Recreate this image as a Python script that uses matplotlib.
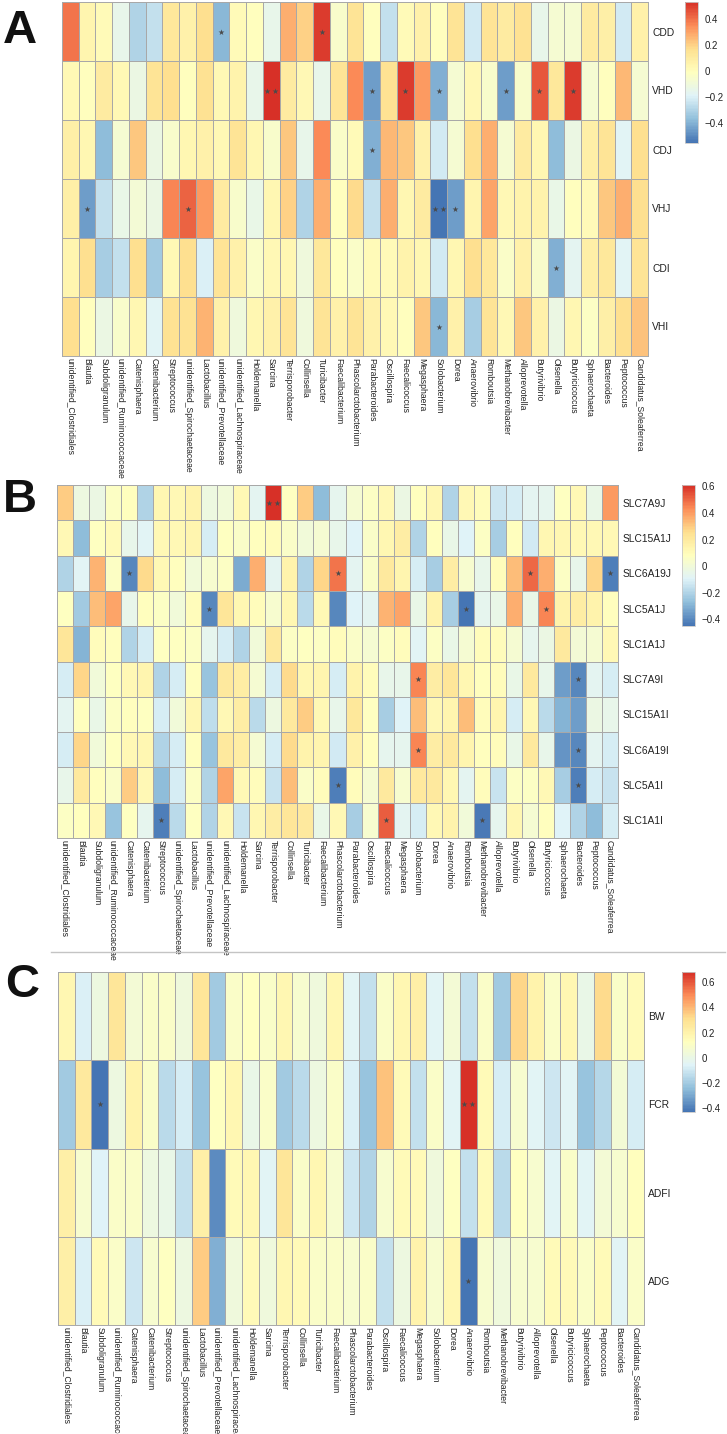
import numpy as np
import matplotlib.pyplot as plt
from matplotlib.colors import LinearSegmentedColormap
from matplotlib.ticker import FuncFormatter
from matplotlib.lines import Line2D

plt.rcParams['font.family'] = ['Liberation Sans', 'DejaVu Sans']

# genera (columns) for panels A and B
genera_ab = ['unidentified_Clostridiales', 'Blautia', 'Subdoligranulum', 'unidentified_Ruminococcaceae',
             'Catenisphaera', 'Catenibacterium', 'Streptococcus', 'unidentified_Spirochaetaceae',
             'Lactobacillus', 'unidentified_Prevotellaceae', 'unidentified_Lachnospiraceae', 'Holdemanella',
             'Sarcina', 'Terrisporobacter', 'Collinsella', 'Turicibacter', 'Faecalibacterium',
             'Phascolarctobacterium', 'Parabacteroides', 'Oscillospira', 'Faecalicoccus', 'Megasphaera',
             'Solobacterium', 'Dorea', 'Anaerovibrio', 'Romboutsia', 'Methanobrevibacter', 'Alloprevotella',
             'Butyrivibrio', 'Olsenella', 'Butyricicoccus', 'Sphaerochaeta', 'Bacteroides', 'Peptococcus',
             'Candidatus_Soleaferrea']
# panel C has a slightly different column order
genera_c = ['unidentified_Clostridiales', 'Blautia', 'Subdoligranulum', 'unidentified_Ruminococcaceae',
            'Catenisphaera', 'Catenibacterium', 'Streptococcus', 'unidentified_Spirochaetaceae',
            'Lactobacillus', 'unidentified_Prevotellaceae', 'unidentified_Lachnospiraceae', 'Holdemanella',
            'Sarcina', 'Terrisporobacter', 'Collinsella', 'Turicibacter', 'Faecalibacterium',
            'Phascolarctobacterium', 'Parabacteroides', 'Oscillospira', 'Faecalicoccus', 'Megasphaera',
            'Solobacterium', 'Dorea', 'Anaerovibrio', 'Romboutsia', 'Methanobrevibacter', 'Butyrivibrio',
            'Alloprevotella', 'Olsenella', 'Butyricicoccus', 'Sphaerochaeta', 'Peptococcus', 'Bacteroides',
            'Candidatus_Soleaferrea']

# Panel A: enzyme activities
rows_a = ['CDD', 'VHD', 'CDJ', 'VHJ', 'CDI', 'VHI']
vals_a = [
    [0.40, 0.05, 0.02, -0.15, -0.30, -0.25, 0.12, 0.07, 0.17, -0.38, 0.02, 0.00, -0.15, 0.28, 0.20, 0.50, -0.05, 0.15,
     0.00, -0.25, 0.02, 0.07, 0.00, 0.15, -0.22, 0.15, 0.10, 0.16, -0.15, -0.07, -0.07, 0.10, 0.08, -0.22, 0.07],
    [0.03, 0.00, 0.10, 0.03, -0.12, 0.15, 0.17, 0.00, 0.16, 0.03, 0.06, -0.15, 0.53, 0.10, 0.03, -0.15, 0.15, 0.35,
     -0.45, 0.16, 0.50, 0.32, -0.40, -0.07, 0.03, -0.05, -0.45, -0.05, 0.45, 0.13, 0.50, -0.07, 0.00, 0.25, -0.07],
    [0.08, 0.04, -0.37, -0.07, 0.22, -0.12, -0.05, 0.04, 0.07, 0.03, 0.15, 0.04, -0.05, 0.22, -0.15, 0.35, -0.04, 0.02,
     -0.40, 0.25, 0.22, 0.07, -0.22, -0.07, 0.17, 0.28, -0.07, 0.10, 0.04, -0.37, -0.12, 0.08, 0.15, -0.18, 0.17],
    [0.08, -0.45, -0.25, -0.13, -0.08, -0.12, 0.36, 0.43, 0.32, 0.10, -0.05, -0.13, 0.04, 0.20, -0.30, 0.28, 0.00, 0.18,
     -0.25, 0.28, 0.04, 0.10, -0.55, -0.45, 0.05, 0.30, 0.03, 0.06, 0.06, -0.13, 0.00, 0.02, 0.22, 0.28, 0.17],
    [0.05, 0.17, -0.32, -0.25, 0.17, -0.33, 0.03, 0.17, -0.20, 0.15, 0.07, -0.04, 0.03, 0.04, -0.10, 0.13, 0.00, -0.04,
     0.02, 0.02, 0.06, 0.04, -0.22, 0.04, 0.17, 0.13, -0.04, 0.07, -0.05, -0.40, -0.17, 0.08, 0.13, -0.18, 0.15],
    [0.17, 0.00, -0.12, -0.05, 0.04, -0.18, 0.16, 0.16, 0.27, 0.07, -0.10, 0.04, 0.07, 0.15, -0.10, 0.15, 0.07, 0.15,
     0.07, 0.03, 0.00, 0.22, -0.38, 0.07, -0.32, 0.15, 0.03, 0.22, 0.07, -0.12, 0.04, -0.03, 0.08, 0.17, 0.23],
]
stars_a = [('CDD', 'unidentified_Prevotellaceae', 1), ('CDD', 'Turicibacter', 1),
           ('VHD', 'Sarcina', 2), ('VHD', 'Parabacteroides', 1), ('VHD', 'Faecalicoccus', 1),
           ('VHD', 'Solobacterium', 1), ('VHD', 'Methanobrevibacter', 1), ('VHD', 'Butyrivibrio', 1),
           ('VHD', 'Butyricicoccus', 1), ('CDJ', 'Parabacteroides', 1),
           ('VHJ', 'Blautia', 1), ('VHJ', 'unidentified_Spirochaetaceae', 1), ('VHJ', 'Solobacterium', 2),
           ('VHJ', 'Dorea', 1), ('CDI', 'Olsenella', 1), ('VHI', 'Solobacterium', 1)]

# Panel B: transporter gene expression
rows_b = ['SLC7A9J', 'SLC15A1J', 'SLC6A19J', 'SLC5A1J', 'SLC1A1J',
          'SLC7A9I', 'SLC15A1I', 'SLC6A19I', 'SLC5A1I', 'SLC1A1I']
vals_b = [
    [0.30, -0.02, -0.03, 0.06, 0.08, -0.20, 0.13, 0.12, 0.15, -0.02, 0.00, 0.12, -0.07, 0.61, 0.07, 0.30, -0.27, -0.06,
     0.02, 0.06, 0.12, -0.03, 0.08, 0.13, -0.20, 0.12, 0.10, -0.14, -0.12, -0.07, -0.06, 0.07, 0.12, -0.04, 0.40],
    [0.12, -0.28, 0.07, 0.11, -0.05, -0.08, 0.12, 0.12, 0.14, -0.12, 0.07, 0.05, 0.08, 0.10, 0.05, 0.00, 0.02, -0.05,
     -0.10, 0.05, 0.13, 0.18, -0.20, 0.08, -0.04, -0.10, 0.06, -0.22, 0.08, -0.13, 0.13, 0.13, 0.12, 0.12, 0.12],
    [-0.20, -0.08, 0.35, 0.06, -0.40, 0.27, 0.12, 0.08, 0.00, 0.03, 0.06, -0.32, 0.36, -0.07, 0.15, -0.20, 0.28, 0.48,
     -0.07, 0.05, 0.20, 0.14, -0.12, -0.22, 0.18, 0.03, -0.05, 0.10, 0.33, 0.50, 0.36, 0.06, -0.05, 0.28, -0.42],
    [0.07, -0.23, 0.33, 0.38, -0.05, 0.08, 0.06, 0.00, 0.10, -0.40, 0.22, 0.13, 0.10, 0.03, 0.13, -0.18, 0.12, -0.40,
     -0.10, -0.07, 0.35, 0.38, -0.04, 0.15, -0.22, -0.45, -0.06, -0.04, 0.36, -0.04, 0.45, 0.15, 0.18, 0.15, 0.08],
    [0.22, -0.30, 0.10, 0.08, -0.20, -0.12, 0.07, 0.07, 0.06, -0.06, -0.12, -0.20, 0.00, 0.20, 0.06, 0.07, 0.06, 0.10,
     0.05, 0.02, 0.06, 0.10, -0.08, 0.06, -0.04, 0.02, 0.10, 0.10, 0.02, -0.06, -0.03, 0.20, 0.01, 0.02, 0.12],
    [-0.12, 0.28, 0.00, 0.07, 0.12, 0.14, -0.20, -0.12, 0.08, -0.25, 0.20, 0.18, 0.02, -0.12, 0.27, 0.13, 0.14, -0.12,
     0.15, 0.10, -0.05, -0.05, 0.45, 0.18, 0.22, 0.13, 0.08, 0.10, -0.04, 0.20, -0.05, -0.35, -0.40, -0.07, -0.12],
    [-0.07, 0.08, -0.04, 0.06, 0.08, 0.07, -0.12, 0.00, 0.13, -0.17, 0.12, 0.18, -0.18, -0.02, 0.20, 0.30, 0.12, -0.05,
     0.21, 0.07, -0.22, -0.10, 0.33, 0.12, 0.14, 0.33, 0.10, 0.14, -0.12, 0.12, -0.18, -0.30, -0.35, -0.03, -0.05],
    [-0.12, 0.28, 0.00, 0.07, 0.12, 0.13, -0.20, -0.12, 0.08, -0.25, 0.20, 0.18, 0.02, -0.12, 0.27, 0.15, 0.14, -0.13,
     0.16, 0.08, -0.06, -0.06, 0.45, 0.18, 0.20, 0.14, 0.08, 0.10, -0.04, 0.20, -0.05, -0.37, -0.40, -0.07, -0.12],
    [-0.05, 0.20, 0.08, 0.05, 0.30, 0.12, -0.28, -0.12, 0.06, -0.20, 0.38, 0.12, 0.10, -0.15, 0.33, 0.05, 0.10, -0.42,
     0.10, 0.02, 0.20, 0.03, 0.20, 0.20, 0.13, -0.07, 0.10, -0.15, 0.06, 0.06, 0.12, -0.22, -0.42, -0.12, -0.15],
    [0.06, 0.08, 0.12, -0.25, 0.07, -0.06, -0.42, -0.18, 0.07, -0.20, 0.12, -0.15, 0.13, 0.18, 0.22, 0.20, -0.04, 0.12,
     -0.22, 0.03, 0.52, -0.07, -0.12, 0.12, 0.15, 0.00, -0.43, -0.06, 0.13, 0.02, 0.08, -0.10, -0.20, -0.28, -0.12],
]
stars_b = [('SLC7A9J', 'Terrisporobacter', 2),
           ('SLC6A19J', 'Catenisphaera', 1), ('SLC6A19J', 'Phascolarctobacterium', 1),
           ('SLC6A19J', 'Olsenella', 1), ('SLC6A19J', 'Candidatus_Soleaferrea', 1),
           ('SLC5A1J', 'unidentified_Prevotellaceae', 1), ('SLC5A1J', 'Romboutsia', 1),
           ('SLC5A1J', 'Butyricicoccus', 1),
           ('SLC7A9I', 'Solobacterium', 1), ('SLC7A9I', 'Bacteroides', 1),
           ('SLC6A19I', 'Solobacterium', 1), ('SLC6A19I', 'Bacteroides', 1),
           ('SLC5A1I', 'Phascolarctobacterium', 1), ('SLC5A1I', 'Bacteroides', 1),
           ('SLC1A1I', 'Streptococcus', 1), ('SLC1A1I', 'Faecalicoccus', 1), ('SLC1A1I', 'Methanobrevibacter', 1)]

# Panel C: growth performance
rows_c = ['BW', 'FCR', 'ADFI', 'ADG']
vals_c = [
    [0.17, -0.07, 0.02, 0.28, 0.05, 0.10, 0.10, 0.03, 0.28, -0.20, 0.10, 0.12, 0.10, 0.17, 0.07, 0.03, 0.17, -0.05,
     -0.12, 0.10, 0.17, 0.22, -0.05, 0.05, -0.13, 0.10, -0.20, 0.33, 0.20, 0.10, 0.17, 0.00, 0.32, 0.10, 0.15],
    [-0.20, 0.25, -0.43, 0.02, 0.20, 0.10, -0.15, -0.08, -0.22, 0.12, 0.17, 0.00, 0.10, -0.20, -0.15, 0.02, 0.10, -0.07,
     -0.22, 0.38, 0.15, -0.12, 0.10, -0.05, 0.68, 0.15, -0.08, 0.08, -0.05, -0.10, -0.05, -0.22, -0.16, 0.05, -0.08],
    [0.22, 0.07, -0.06, 0.10, 0.10, 0.02, 0.00, -0.12, 0.22, -0.37, 0.15, 0.17, -0.05, 0.28, 0.10, 0.17, 0.07, -0.10,
     -0.17, 0.07, 0.15, 0.15, 0.03, 0.12, -0.12, 0.15, -0.15, 0.12, 0.07, -0.05, 0.10, -0.05, 0.05, 0.07, 0.13],
    [0.22, -0.07, 0.15, 0.10, -0.10, 0.07, 0.12, 0.02, 0.35, -0.28, 0.03, 0.15, 0.03, 0.17, 0.15, 0.10, 0.10, 0.07,
     0.10, -0.12, 0.02, 0.20, 0.07, 0.17, -0.42, 0.08, 0.03, 0.07, 0.07, 0.15, 0.15, 0.10, 0.15, -0.05, 0.10],
]
stars_c = [('FCR', 'Subdoligranulum', 1), ('FCR', 'Anaerovibrio', 2), ('ADG', 'Anaerovibrio', 1)]

# pheatmap default palette (reversed RdYlBu, 7 colours)
cmap = LinearSegmentedColormap.from_list(
    'pheat', ['#4575B4', '#91BFDB', '#E0F3F8', '#FFFFBF', '#FEE090', '#FC8D59', '#D73027'], N=100)

W, H = 727, 1434
fig = plt.figure(figsize=(W / 100, H / 100), dpi=100)


def box(x0, y0, x1, y1):
    # pixel box (top-left origin) -> figure fraction rect
    return [x0 / W, 1 - y1 / H, (x1 - x0) / W, (y1 - y0) / H]


def fmt(v, pos):
    return ('%g' % round(v, 2)).replace('-', '\u2212')


def panel(hm_px, cb_px, rows, cols, vals, stars, ticks):
    ax = fig.add_axes(box(*hm_px))
    data = np.array(vals)
    mesh = ax.pcolormesh(data, cmap=cmap, vmin=data.min(), vmax=data.max(),
                         edgecolors='#a8a8a8', linewidth=0.7)
    ax.set_xlim(0, len(cols))
    ax.set_ylim(len(rows), 0)
    ax.set_xticks(np.arange(len(cols)) + 0.5)
    ax.set_xticklabels(cols, rotation=270, fontsize=6.2, color='#222222')
    ax.yaxis.tick_right()
    ax.set_yticks(np.arange(len(rows)) + 0.5)
    ax.set_yticklabels(rows, fontsize=7.4, color='#222222')
    ax.tick_params(axis='x', length=0, pad=1.5)
    ax.tick_params(axis='y', length=0, pad=3)
    for sp in ax.spines.values():
        sp.set_color('#a8a8a8')
        sp.set_linewidth(0.7)

    # significance stars
    for r, c, n in stars:
        xs = [cols.index(c) + 0.5] if n == 1 else [cols.index(c) + 0.25, cols.index(c) + 0.75]
        ax.scatter(xs, [rows.index(r) + 0.5] * len(xs), marker='*', s=20, color='#4a4a4a',
                   linewidths=0, zorder=3)

    cax = fig.add_axes(box(*cb_px))
    cb = fig.colorbar(mesh, cax=cax)
    cb.set_ticks(ticks)
    cb.ax.yaxis.set_major_formatter(FuncFormatter(fmt))
    cb.ax.tick_params(length=0, pad=5, labelsize=7, labelcolor='#222222')
    cb.outline.set_edgecolor('#c8c8c8')
    cb.outline.set_linewidth(0.6)
    return ax


panel((62, 2, 648, 356), (685, 2, 698, 143), rows_a, genera_ab, vals_a, stars_a,
      [-0.4, -0.2, 0, 0.2, 0.4])
panel((57, 485, 618, 838), (682, 485, 695, 626), rows_b, genera_ab, vals_b, stars_b,
      [-0.4, -0.2, 0, 0.2, 0.4, 0.6])
panel((58, 972, 644, 1325), (682, 972, 695, 1112), rows_c, genera_c, vals_c, stars_c,
      [-0.4, -0.2, 0, 0.2, 0.4, 0.6])

# panel letters
for letter, (px, py) in zip('ABC', [(3, 43), (3, 512), (5, 997)]):
    fig.text(px / W, 1 - py / H, letter, fontsize=34, fontweight='bold', color='#111111',
             ha='left', va='baseline')

# separator between B and C
fig.add_artist(Line2D([51 / W, 725 / W], [1 - 952 / H, 1 - 952 / H], color='#c4c4c4', linewidth=1))

fig.savefig('out.png', dpi=100)
